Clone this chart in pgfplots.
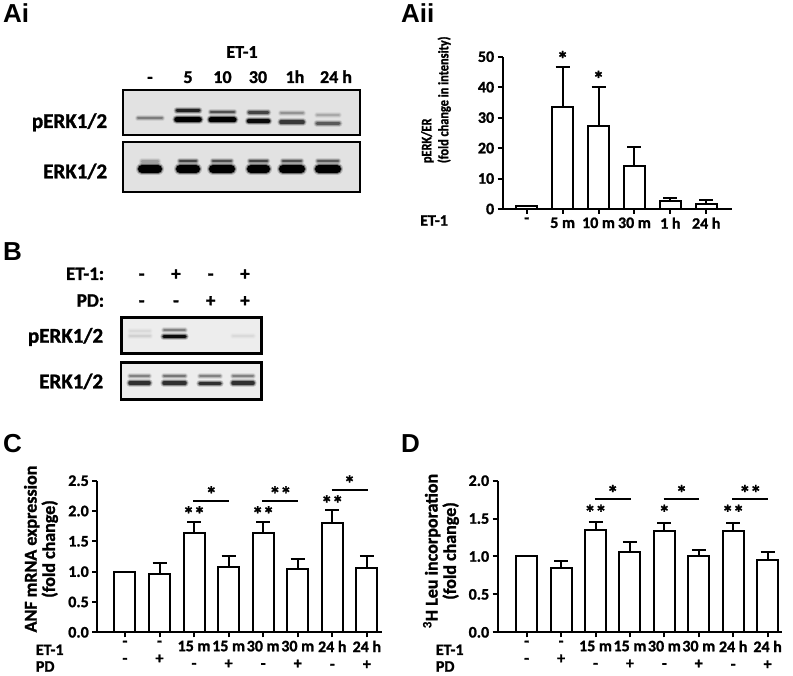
\documentclass[border=0pt]{standalone}
\usepackage{fontspec}
\setmainfont{Carlito}[BoldFeatures={FakeBold=1.3}]
\newfontfamily\condfont{Carlito}[FakeStretch=0.85, BoldFeatures={FakeBold=1.3}]
\newfontfamily\panelfont{Liberation Sans}
\usepackage{pgfplots}
\pgfplotsset{compat=1.18}
\definecolor{blotA}{HTML}{E2E2E2}
\definecolor{blotB}{HTML}{EDEDED}
\def\bgc{blotA}
\newcommand\band[5]{%
 \addplot[draw=black!#5!\bgc, line width=#4pt+4pt, opacity=0.18, line cap=round] coordinates {(#1,#3) (#2,#3)};
 \addplot[draw=black!#5!\bgc, line width=#4pt+2pt, opacity=0.4, line cap=round] coordinates {(#1,#3) (#2,#3)};
 \addplot[draw=black!#5!\bgc, line width=#4pt, line cap=round] coordinates {(#1,#3) (#2,#3)};}
\pgfplotsset{
 barax/.style={
  scale only axis, clip=false,
  axis x line=bottom, axis y line=left,
  axis line style={line width=2pt,-},
  tick style={line width=2pt, black},
  tick align=outside,
  major tick length=5pt,
  xtick=data,
  /pgf/number format/assume math mode=true,
  tick label style={font=\bfseries\fontsize{16}{17.2}\selectfont},
  ymin=0,
 },
 barplot/.style={ybar, bar width=21pt, fill=white, draw=black, line width=2pt,
   error bars/y dir=plus, error bars/y explicit,
   error bars/error bar style={line width=2pt, black},
   error bars/error mark options={rotate=90, mark size=7pt, line width=2pt, black}},
 blot/.style={scale only axis, y dir=reverse, axis line style={line width=2pt},
   xtick=\empty, ytick=\empty, axis background/.style={fill=#1}, axis on top},
}
\newcommand\stars[3]{\node[font=\bfseries\fontsize{22}{22}\selectfont, inner sep=0] at (axis cs:#1,#2) {#3};}
\begin{document}
\begin{tikzpicture}
\path[use as bounding box] (0pt,0pt) rectangle (793pt,676pt);
% panel letters
\node[anchor=base west, inner sep=0, font=\panelfont\bfseries\fontsize{26}{26}\selectfont] at (3pt,653pt) {Ai};
\node[anchor=base west, inner sep=0, font=\panelfont\bfseries\fontsize{26}{26}\selectfont] at (401pt,653pt) {Aii};
\node[anchor=base west, inner sep=0, font=\panelfont\bfseries\fontsize{26}{26}\selectfont] at (3pt,415pt) {B};
\node[anchor=base west, inner sep=0, font=\panelfont\bfseries\fontsize{26}{26}\selectfont] at (3pt,223pt) {C};
\node[anchor=base west, inner sep=0, font=\panelfont\bfseries\fontsize{26}{26}\selectfont] at (401pt,223pt) {D};

% ---------- Ai blot ----------
\begin{scope}[every node/.style={font=\bfseries\fontsize{18}{18}\selectfont, inner sep=0}]
\node at (242pt,624pt) {ET-1};
\node[anchor=base] at (150pt,593pt) {-};
\node[anchor=base] at (188pt,593pt) {5};
\node[anchor=base] at (222.5pt,593pt) {10};
\node[anchor=base] at (258pt,593pt) {30};
\node[anchor=base] at (295pt,593pt) {1h};
\node[anchor=base] at (336pt,593pt) {24 h};
\end{scope}
\node[anchor=base east, inner sep=0, font=\bfseries\fontsize{21}{21}\selectfont] at (107.3pt,548pt) {pERK1/2};
\node[anchor=base east, inner sep=0, font=\bfseries\fontsize{21}{21}\selectfont] at (107.3pt,497.7pt) {ERK1/2};
\def\bgc{blotA}
\begin{axis}[blot=blotA, at={(122.7pt,541pt)}, anchor=south west, width=237.3pt, height=45pt,
  xmin=122.7, xmax=360, ymin=90, ymax=135]
\band{138}{162}{118.5}{2}{45}
\band{177}{199}{110.7}{3}{85}
\band{177}{199}{119.5}{5.5}{100}
\band{211}{234}{112}{2.5}{65}
\band{211}{234}{120}{5}{100}
\band{249}{268}{112.3}{2.5}{70}
\band{249}{268}{121.2}{4.5}{95}
\band{281}{303}{113.3}{2}{35}
\band{281}{303}{122.2}{3.5}{75}
\band{317}{339}{115}{1.8}{25}
\band{317}{339}{123.3}{3}{60}
\end{axis}
\begin{axis}[blot=blotA, at={(122.7pt,484.3pt)}, anchor=south west, width=237.3pt, height=50pt,
  xmin=122.7, xmax=360, ymin=141.7, ymax=191.7]
\band{142}{158}{161.5}{2.5}{30}
\band{180}{196}{161}{2.5}{70}
\band{213}{231}{161}{2.5}{65}
\band{250}{267}{161}{2.5}{70}
\band{283}{301}{161}{2.5}{65}
\band{318}{338}{161}{2.5}{60}
\band{142}{158}{169}{8}{100}
\band{180}{196}{169}{8}{100}
\band{213}{231}{169}{8}{100}
\band{251}{266}{169}{8}{100}
\band{283}{301}{169}{8}{100}
\band{319}{337}{169}{8}{100}
\end{axis}

% ---------- B blot ----------
\begin{scope}[every node/.style={font=\bfseries\fontsize{19}{19}\selectfont, inner sep=0}]
\node[anchor=base east] at (104.3pt,396pt) {ET-1:};
\node[anchor=base east] at (104.3pt,369.3pt) {PD:};
\node[anchor=base] at (141.7pt,396pt) {-};
\node[anchor=base] at (176pt,396pt) {+};
\node[anchor=base] at (210.7pt,396pt) {-};
\node[anchor=base] at (245pt,396pt) {+};
\node[anchor=base] at (141.7pt,369.3pt) {-};
\node[anchor=base] at (176pt,369.3pt) {-};
\node[anchor=base] at (210.7pt,369.3pt) {+};
\node[anchor=base] at (245pt,369.3pt) {+};
\end{scope}
\node[anchor=base east, inner sep=0, font=\bfseries\fontsize{21}{21}\selectfont] at (103.3pt,333.3pt) {pERK1/2};
\node[anchor=base east, inner sep=0, font=\bfseries\fontsize{21}{21}\selectfont] at (103.3pt,287.7pt) {ERK1/2};
\def\bgc{blotB}
\begin{axis}[blot=blotB, at={(121.7pt,322.7pt)}, anchor=south west, width=140pt, height=35.6pt,
  xmin=121.7, xmax=261.7, ymin=317.7, ymax=353.3, axis line style={line width=2.5pt}]
\band{130}{150}{331}{1.5}{8}
\band{130}{150}{336}{2}{12}
\band{164}{185}{330.3}{1.8}{45}
\band{164}{185}{336.5}{3.5}{95}
\band{233}{253}{336}{2}{8}
\end{axis}
\begin{axis}[blot=blotB, at={(121pt,276.7pt)}, anchor=south west, width=140.7pt, height=36.6pt,
  xmin=121, xmax=261.7, ymin=362.7, ymax=399.3, axis line style={line width=2.5pt}]
\band{130}{149}{376}{2}{45}
\band{164}{185}{376}{2}{50}
\band{200}{220}{376.5}{2}{45}
\band{233}{253}{376}{2}{45}
\band{130}{149}{383}{3.5}{80}
\band{164}{185}{383}{3.5}{80}
\band{200}{220}{383.5}{3.5}{80}
\band{233}{253}{383}{3.5}{80}
\end{axis}

% ---------- Aii ----------
\begin{axis}[barax, at={(502.7pt,467pt)}, anchor=south west, width=229pt, height=152.3pt,
  xmin=-0.67, xmax=5.71, ymax=50, ytick={0,10,...,50},
  xticklabels={-,5 m,10 m,30 m,1 h,24 h}]
\addplot[barplot] table[x=x,y=y,y error=e] {
x y e
0 1.0 0
1 33.5 13.2
2 27.2 13.0
3 14.2 6.3
4 2.5 1.1
5 1.6 1.5
};
\stars{1}{49.3}{*}
\stars{2}{42.8}{*}
\end{axis}
\node[anchor=base west, inner sep=0, font=\bfseries\fontsize{16}{16}\selectfont] at (420pt,450.3pt) {ET-1};
\node[rotate=90, anchor=north west, align=left, inner sep=0, font=\condfont\bfseries\fontsize{14.5}{17}\selectfont] at (421pt,512.7pt) {pERK/ER\\(fold change in intensity)};

% ---------- C ----------
\begin{axis}[barax, at={(97.3pt,43.7pt)}, anchor=south west, width=284.4pt, height=151.6pt,
  xmin=-0.80, xmax=7.43, ymax=2.5, ytick={0,0.5,...,2.5},
  yticklabel style={/pgf/number format/.cd, fixed, fixed zerofill, precision=1},
  xticklabel style={align=center},
  xticklabels={{-\\-},{-\\+},{15 m\\-},{15 m\\+},{30 m\\-},{30 m\\+},{24 h\\-},{24 h\\+}}]
\addplot[barplot] table[x=x,y=y,y error=e] {
x y e
0 1.00 0
1 0.96 0.18
2 1.64 0.18
3 1.08 0.17
4 1.64 0.18
5 1.04 0.17
6 1.80 0.21
7 1.06 0.20
};
\stars{2}{1.95}{**}
\stars{4}{1.95}{**}
\stars{6}{2.13}{**}
\draw[line width=2pt] (axis cs:1.98,2.17) -- (axis cs:3.02,2.17);
\draw[line width=2pt] (axis cs:3.98,2.17) -- (axis cs:5.02,2.17);
\draw[line width=2pt] (axis cs:5.98,2.35) -- (axis cs:7.02,2.35);
\stars{2.5}{2.28}{*}
\stars{4.5}{2.28}{**}
\stars{6.5}{2.46}{*}
\end{axis}
\node[anchor=base west, inner sep=0, font=\bfseries\fontsize{16}{16}\selectfont] at (35.7pt,21pt) {ET-1};
\node[anchor=base west, inner sep=0, font=\bfseries\fontsize{16}{16}\selectfont] at (35.7pt,4.3pt) {PD};
\node[rotate=90, align=center, inner sep=0, font=\bfseries\fontsize{18}{18.3}\selectfont] at (41pt,127pt) {ANF mRNA expression\\(fold change)};

% ---------- D ----------
\begin{axis}[barax, at={(497.7pt,43.7pt)}, anchor=south west, width=284pt, height=151.6pt,
  xmin=-0.843, xmax=7.41, ymax=2.0, ytick={0,0.5,...,2.0},
  yticklabel style={/pgf/number format/.cd, fixed, fixed zerofill, precision=1},
  xticklabel style={align=center},
  xticklabels={{-\\-},{-\\+},{15 m\\-},{15 m\\+},{30 m\\-},{30 m\\+},{24 h\\-},{24 h\\+}}]
\addplot[barplot] table[x=x,y=y,y error=e] {
x y e
0 1.00 0
1 0.85 0.095
2 1.35 0.10
3 1.055 0.135
4 1.33 0.11
5 1.00 0.08
6 1.34 0.10
7 0.95 0.11
};
\stars{2}{1.58}{**}
\stars{4}{1.58}{*}
\stars{6}{1.58}{**}
\draw[line width=2pt] (axis cs:1.98,1.76) -- (axis cs:3.02,1.76);
\draw[line width=2pt] (axis cs:3.98,1.76) -- (axis cs:5.02,1.76);
\draw[line width=2pt] (axis cs:5.98,1.76) -- (axis cs:7.02,1.76);
\stars{2.5}{1.84}{*}
\stars{4.5}{1.84}{*}
\stars{6.5}{1.84}{**}
\end{axis}
\node[anchor=base west, inner sep=0, font=\bfseries\fontsize{16}{16}\selectfont] at (435.7pt,21pt) {ET-1};
\node[anchor=base west, inner sep=0, font=\bfseries\fontsize{16}{16}\selectfont] at (435.7pt,4.3pt) {PD};
\node[rotate=90, align=center, inner sep=0, font=\bfseries\fontsize{18}{18.3}\selectfont] at (441pt,125pt) {\textsuperscript{3}H Leu incorporation\\(fold change)};
\end{tikzpicture}
\end{document}
